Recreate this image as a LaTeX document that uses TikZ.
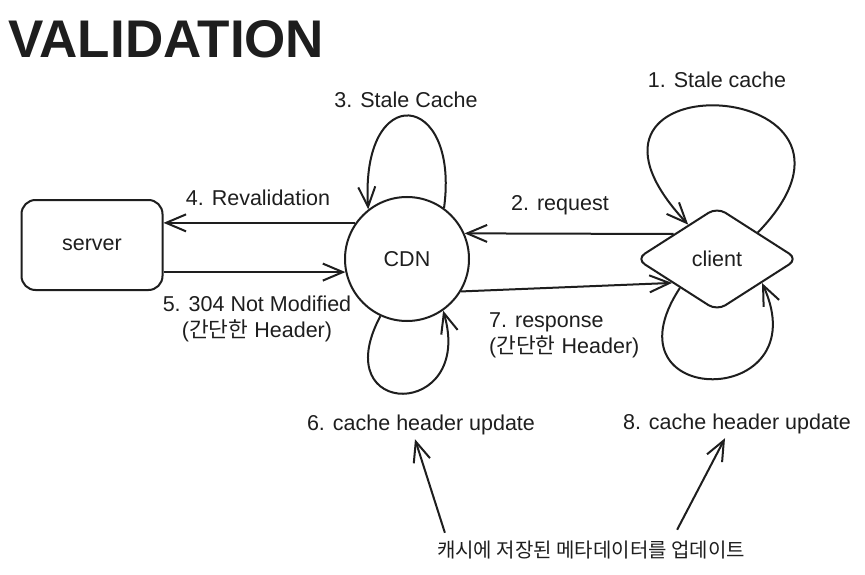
\documentclass[tikz,border=0pt]{standalone}
\usepackage{fontspec}
\setmainfont{Liberation Sans}
\newfontfamily\krfont{Noto Sans CJK KR}
\usetikzlibrary{arrows.meta,shapes.geometric}
\definecolor{inkc}{HTML}{1E1E1E}

\begin{document}
\begin{tikzpicture}[>={Straight Barb[length=20pt,width=17pt]}, x=1pt, y=-1pt,
  ink/.style={draw=inkc, line width=2pt},
  conn/.style={ink, ->},
  txt/.style={text=inkc, font=\fontsize{21.5}{26}\selectfont},
  lbl/.style={txt, inner sep=0pt}]

% --- Canvas ---
\fill[white] (0,0) rectangle (865,575);
\useasboundingbox (0,0) rectangle (865,575);

% --- Title ---
\node[lbl, anchor=base west, font=\fontsize{53}{60}\selectfont\bfseries]
  (title) at (8,58) {VALIDATION};

% ============================================================
% Main nodes
% ============================================================
\node[ink, txt, rounded corners=14pt, minimum width=141pt,
      minimum height=90pt] (server) at (92,245) {server};
\node[ink, txt, circle, minimum size=124pt, inner sep=0pt]
  (cdn) at (407,259) {CDN};
\node[ink, txt, diamond, rounded corners=10pt, minimum width=162pt,
      minimum height=104pt, inner sep=0pt] (client) at (717,259) {client};

% ============================================================
% Labels
% ============================================================
\node[lbl] (stale3) at (406,100) {3. Stale Cache};
\node[lbl] (stale1) at (717,80) {1. Stale cache};
\node[lbl] (reval4) at (258,198) {4. Revalidation};
\node[lbl] (req2) at (560,205) {2. request};
\node[lbl, align=center] (nm5) at (257,319)
  {5. 304 Not Modified\\({\krfont 간단한} Header)};
\node[lbl, align=left, anchor=west] (resp7) at (489,335)
  {7. response\\({\krfont 간단한} Header)};
\node[lbl] (upd6) at (421,425) {6. cache header update};
\node[lbl] (upd8) at (737,424) {8. cache header update};
\node[lbl, font=\krfont\fontsize{20}{24}\selectfont]
  (meta) at (591,550) {캐시에 저장된 메타데이터를 업데이트};

% ============================================================
% Requests between nodes
% ============================================================
\draw[conn] (cdn.145) -- (cdn.145 -| server.east);
\draw[conn] (cdn.192 -| server.east) -- (cdn.192);
\draw[conn] (client.150) -- (cdn.24);
\draw[conn] (cdn.-31) -- (client.208);

% ============================================================
% Self loops
% ============================================================
% CDN: stale cache (top), header update (bottom)
\draw[conn] (cdn.54) .. controls (460,90) and (360,80) .. (cdn.128);
\draw[conn] (cdn.-115) .. controls (325,420) and (475,420) .. (cdn.-55);

% client: stale cache (top), header update (bottom)
\draw[conn] (client.33) .. controls (910,75) and (530,55) .. (client.130);
\draw[conn] (client.218) .. controls (600,410) and (820,410) .. (client.-28);

% ============================================================
% Note arrows to the update labels
% ============================================================
\draw[conn] ([xshift=8pt,yshift=8pt]meta.north west)
  -- ([xshift=-6pt,yshift=-4pt]upd6.south);
\draw[conn] ([xshift=-68pt,yshift=11pt]meta.north east)
  -- ([xshift=-12pt,yshift=-4pt]upd8.south);

\end{tikzpicture}
\end{document}
